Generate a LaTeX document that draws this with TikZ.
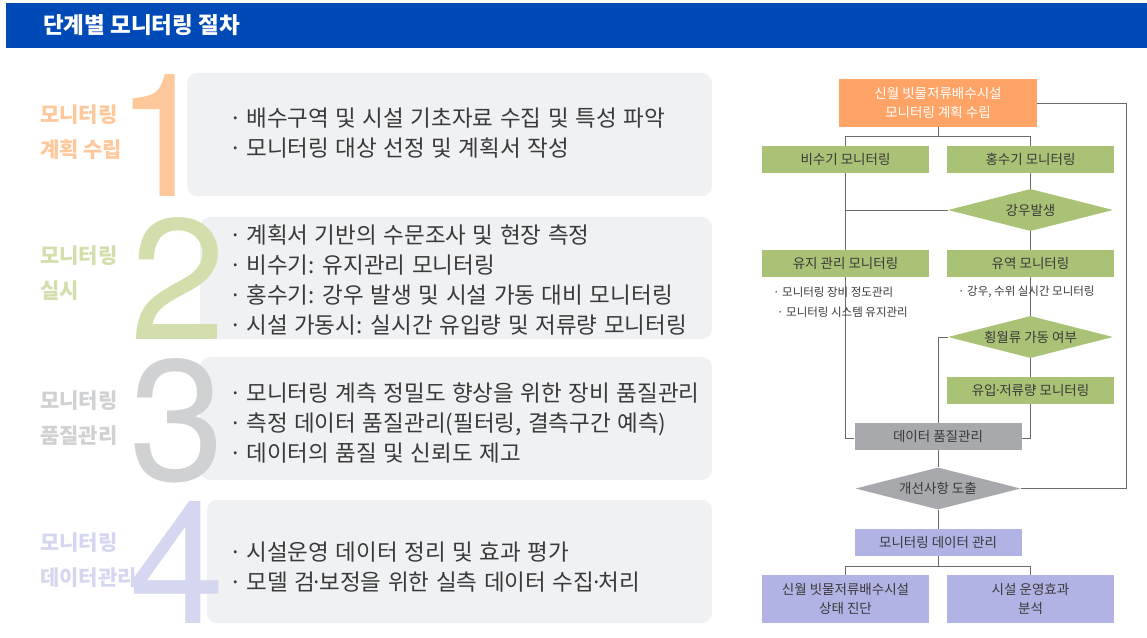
\documentclass[tikz,border=0pt]{standalone}
\usepackage{fontspec}
\setmainfont{Noto Sans CJK KR}
\newfontfamily\bodyfont{Noto Sans CJK KR}[WordSpace=1.3]
\newfontfamily\numfont{TeX Gyre Heros}
\usetikzlibrary{shapes.geometric}
\definecolor{hdrblue}{RGB}{0,74,183}
\definecolor{panelgray}{RGB}{240,241,243}
\definecolor{lorange}{RGB}{255,200,155}
\definecolor{lgreen}{RGB}{210,223,172}
\definecolor{lgray}{RGB}{208,209,211}
\definecolor{llav}{RGB}{213,215,240}
\definecolor{forange}{RGB}{255,164,102}
\definecolor{fgreen}{RGB}{170,194,118}
\definecolor{fgray}{RGB}{168,169,173}
\definecolor{flav}{RGB}{177,179,228}
\definecolor{lnc}{RGB}{106,106,106}
\definecolor{txt}{RGB}{58,58,58}
\newcommand{\bul}{·\kern4pt}
\newcommand{\mdot}{\kern-0.18em·\kern-0.18em}
\tikzset{
  panel/.style={fill=panelgray, draw=none, rounded corners=10pt},
  bignum/.style={font=\numfont\fontsize{172}{172}\selectfont, inner sep=0pt, anchor=base},
  steplabel/.style={font=\bfseries\fontsize{21}{35}\selectfont, align=left, anchor=west, inner sep=0pt},
  body/.style={font=\bodyfont\fontsize{22.5}{30}\selectfont, text=txt, align=left, anchor=west, inner sep=0pt},
  fbox/.style={minimum width=167pt, minimum height=27pt, inner sep=0pt, draw=none, font=\fontsize{13.5}{19}\selectfont, text=txt, align=center},
  fdia/.style={shape=diamond, aspect=4, inner sep=0pt, draw=none, minimum width=165pt, minimum height=42pt},
  flabel/.style={font=\fontsize{13.5}{19}\selectfont, text=txt},
  note/.style={font=\fontsize{11.5}{14}\selectfont, text=txt, anchor=west, inner sep=0pt},
  conn/.style={draw=lnc, line width=1pt}
}
\begin{document}
\begin{tikzpicture}[x=1pt,y=-1pt]
\useasboundingbox (0,0) rectangle (1147,637);
\fill[white] (0,0) rectangle (1147,637);
% header
\fill[hdrblue] (6,3) rectangle (1147,48);
\node[anchor=west, text=white, font=\bfseries\fontsize{22.5}{26}\selectfont, inner sep=0pt] (title) at (43,25) {단계별 모니터링 절차};
% panels
\path[panel] (187,73) rectangle (712,196);
\path[panel] (200,217) rectangle (712,339);
\path[panel] (200,357) rectangle (712,480);
\path[panel] (207,500) rectangle (712,623);
% numerals
\node[bignum, text=lorange] (n1) at (163,196) {1};
\node[bignum, text=lgreen] (n2) at (178,339) {2};
\node[bignum, text=lgray] (n3) at (177,480) {3};
\node[bignum, text=llav] (n4) at (177,623) {4};
% step labels
\node[steplabel, text=lorange] (l1) at (40,132.5) {모니터링\\계획 수립};
\node[steplabel, text=lgreen] (l2) at (40,273.5) {모니터링\\실시};
\node[steplabel, text=lgray] (l3) at (40,418.5) {모니터링\\품질관리};
\node[steplabel, text=llav] (l4) at (40,560) {모니터링\\데이터관리};
% body texts
\node[body] (t1) at (229.5,133) {\bul 배수구역 및 시설 기초자료 수집 및 특성 파악\\\bul 모니터링 대상 선정 및 계획서 작성};
\node[body] (t2) at (229.5,280) {\bul 계획서 기반의 수문조사 및 현장 측정\\\bul 비수기: 유지관리 모니터링\\\bul 홍수기: 강우 발생 및 시설 가동 대비 모니터링\\\bul 시설 가동시: 실시간 유입량 및 저류량 모니터링};
\node[body] (t3) at (229.5,423) {\bul 모니터링 계측 정밀도 향상을 위한 장비 품질관리\\\bul 측정 데이터 품질관리(필터링, 결측구간 예측)\\\bul 데이터의 품질 및 신뢰도 제고};
\node[body] (t4) at (229.5,567) {\bul 시설운영 데이터 정리 및 효과 평가\\\bul 모델 검\mdot 보정을 위한 실측 데이터 수집\mdot 처리};
% flowchart nodes
\node[fbox, fill=forange, text=white, minimum width=198pt, minimum height=48pt] (top) at (938,103) {신월 빗물저류배수시설\\모니터링 계획 수립};
\node[fbox, fill=fgreen] (b1) at (845.5,159.5) {비수기 모니터링};
\node[fbox, fill=fgreen] (b2) at (1030.5,159.5) {홍수기 모니터링};
\node[fdia, fill=fgreen, label={[flabel]center:강우발생}] (d1) at (1030.5,210) {};
\node[fbox, fill=fgreen] (c1) at (845.5,263.5) {유지 관리 모니터링};
\node[fbox, fill=fgreen] (c2) at (1030.5,263.5) {유역 모니터링};
\node[fdia, fill=fgreen, label={[flabel]center:횡월류 가동 여부}] (d2) at (1030.5,337) {};
\node[fbox, fill=fgreen] (e2) at (1030.5,390.5) {유입\mdot 저류량 모니터링};
\node[fbox, fill=fgray] (q) at (938,436.5) {데이터 품질관리};
\node[fdia, fill=fgray, label={[flabel]center:개선사항 도출}] (d3) at (938,488.5) {};
\node[fbox, fill=flav] (m) at (938,542.5) {모니터링 데이터 관리};
\node[fbox, fill=flav, minimum height=48pt] (f1) at (845.5,599) {신월 빗물저류배수시설\\상태 진단};
\node[fbox, fill=flav, minimum height=48pt] (f2) at (1030.5,599) {시설 운영효과\\분석};
% connectors
\draw[conn] (top.south) -- ++(0,9) -| (b1.north);
\draw[conn] (top.south) -- ++(0,9) -| (b2.north);
\draw[conn] (b2.south) -- (d1.north);
\draw[conn] (b1.south) -- (c1.north);
\draw[conn] (d1.west) -- (b1.south |- d1.west);
\draw[conn] (d1.south) -- (c2.north);
\draw[conn] (c1.south) |- ([yshift=-1.5pt]q.west);
\draw[conn] (c2.south) -- (d2.north);
\draw[conn] (d2.west) -| (q.north);
\draw[conn] (d2.south) -- (e2.north);
\draw[conn] (e2.south) |- ([yshift=-1.5pt]q.east);
\draw[conn] (q.south) -- (d3.north);
\draw[conn] (d3.south) -- (m.north);
\draw[conn] (m.south) -- ++(0,10) -| (f1.north);
\draw[conn] (m.south) -- ++(0,10) -| (f2.north);
\draw[conn] (top.east) -- ++(89,0) |- (d3.east);
% notes
\node[note] (a1) at (773,292) {· 모니터링 장비 정도관리};
\node[note] (a2) at (777,312) {· 모니터링 시스템 유지관리};
\node[note] (a3) at (958,292) {· 강우, 수위 실시간 모니터링};
\end{tikzpicture}
\end{document}
